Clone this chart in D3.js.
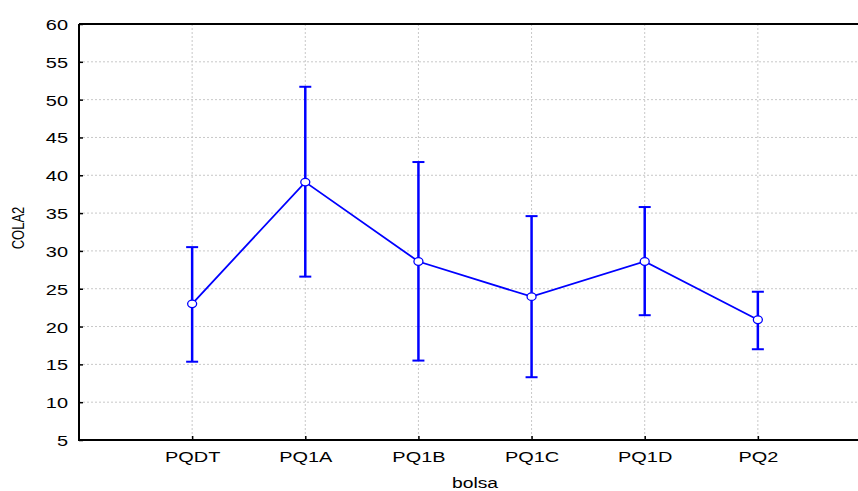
<!DOCTYPE html>
<html><head><meta charset="utf-8">
<script src="https://cdn.jsdelivr.net/npm/d3@7"></script>
<style>body{margin:0;background:#fff}svg{display:block}text{font-family:"Liberation Sans",Arial,sans-serif}</style>
</head><body><svg id="c" width="858" height="491"></svg>
<script>
const categories = ["PQDT","PQ1A","PQ1B","PQ1C","PQ1D","PQ2"];
const means = [23.0, 39.1, 28.6, 23.95, 28.6, 20.9];
const upper = [30.5, 51.7, 41.75, 34.6, 35.8, 24.6];
const lower = [15.35, 26.6, 15.5, 13.3, 21.5, 17.0];
const yTicks = [5,10,15,20,25,30,35,40,45,50,55,60];
const xLabel = "bolsa", yLabel = "COLA2";

const SX = 1.33;
const svg = d3.select("#c");
const L = 79, T = 24, B = 440, R = 871;
const x = d3.scaleLinear().domain([0, categories.length + 1]).range([L, R]);
const y = d3.scaleLinear().domain([5, 60]).range([B, T]);
const g = svg.append("g");

// grid
g.selectAll(".hg").data(yTicks.slice(1, -1)).join("line")
  .attr("x1", L).attr("x2", 858).attr("y1", d => y(d)).attr("y2", d => y(d))
  .attr("stroke", "#c8c8c8").attr("stroke-width", 1).attr("stroke-dasharray", "2,2");
g.selectAll(".vg").data(categories).join("line")
  .attr("x1", (d,i) => x(i+1)).attr("x2", (d,i) => x(i+1)).attr("y1", T).attr("y2", B)
  .attr("stroke", "#c8c8c8").attr("stroke-width", 1).attr("stroke-dasharray", "2,2");

// axes
const ya = d3.axisLeft(y).tickValues(yTicks).tickSize(-4);
const yg = g.append("g").attr("transform", `translate(${L},0)`).call(ya);
yg.select(".domain").remove();
yg.selectAll("line").attr("stroke", "#000").attr("stroke-width", 1.5);
yg.selectAll("text").attr("font-size", 15).attr("fill", "#000")
  .attr("x", 0).attr("dy", 0).attr("y", 5.5)
  .attr("transform", `translate(-11,0) scale(${SX},1)`);

const xa = d3.axisBottom(x).tickValues(categories.map((d,i) => i+1)).tickFormat((d) => categories[d-1]).tickSize(-4);
const xg = g.append("g").attr("transform", `translate(0,${B})`).call(xa);
xg.select(".domain").remove();
xg.selectAll("line").attr("stroke", "#000").attr("stroke-width", 1.5);
xg.selectAll("text").attr("font-size", 15).attr("fill", "#000")
  .attr("dy", 0).attr("y", 0)
  .attr("transform", `translate(0,21.7) scale(${SX},1)`);

// frame lines
g.append("line").attr("x1", L).attr("x2", L).attr("y1", T).attr("y2", B+1).attr("stroke", "#000").attr("stroke-width", 2);
g.append("line").attr("x1", L).attr("x2", 858).attr("y1", B).attr("y2", B).attr("stroke", "#000").attr("stroke-width", 2);
g.append("line").attr("x1", L).attr("x2", 858).attr("y1", T).attr("y2", T).attr("stroke", "#000").attr("stroke-width", 2);

// labels
svg.append("text").attr("transform", `translate(${x(3.5)},488) scale(${SX},1)`).attr("text-anchor", "middle").attr("font-size", 14.5).text(xLabel);
svg.append("text").attr("transform", `translate(24,${(T+B)/2 - 4}) scale(${SX},1) rotate(-90)`).attr("text-anchor", "middle").attr("font-size", 13).text(yLabel);

const blue = "#0000ff";
// error bars
categories.forEach((c, i) => {
  const cx = x(i+1);
  g.append("line").attr("x1", cx).attr("x2", cx).attr("y1", y(upper[i])).attr("y2", y(lower[i])).attr("stroke", blue).attr("stroke-width", 2.5);
  [upper[i], lower[i]].forEach(v => g.append("line").attr("x1", cx-6).attr("x2", cx+6).attr("y1", y(v)).attr("y2", y(v)).attr("stroke", blue).attr("stroke-width", 2));
});
// line
g.append("path").datum(means).attr("fill", "none").attr("stroke", blue).attr("stroke-width", 1.8)
  .attr("d", d3.line().x((d,i) => x(i+1)).y(d => y(d)));
// markers
g.selectAll(".pt").data(means).join("ellipse")
  .attr("cx", (d,i) => x(i+1)).attr("cy", d => y(d)).attr("rx", 4.5).attr("ry", 3.8)
  .attr("fill", "#fff").attr("stroke", blue).attr("stroke-width", 1.3);
</script></body></html>
